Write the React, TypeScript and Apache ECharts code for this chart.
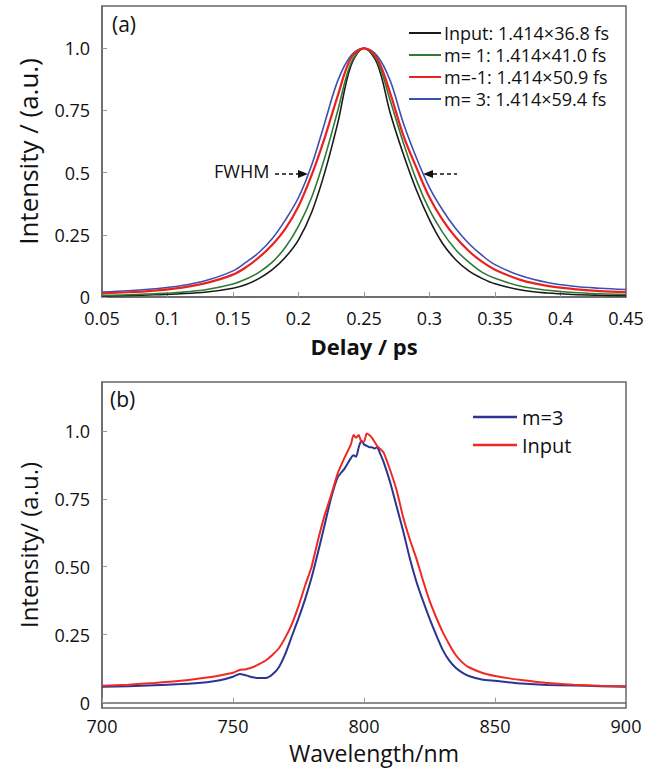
import React, { useEffect, useRef } from "react";
import * as echarts from "echarts";

// ---------- Panel (a): autocorrelation traces ----------
const delay = [0.05, 0.07, 0.09, 0.11, 0.13, 0.15, 0.16, 0.17, 0.18, 0.19, 0.2, 0.21, 0.22, 0.23, 0.24, 0.25, 0.26, 0.27, 0.28, 0.29, 0.3, 0.31, 0.32, 0.33, 0.34, 0.35, 0.37, 0.39, 0.41, 0.43, 0.45];
const inputTrace = [0.004, 0.006, 0.009, 0.013, 0.02, 0.035, 0.05, 0.075, 0.11, 0.16, 0.23, 0.34, 0.5, 0.7, 0.93, 1.0, 0.94, 0.74, 0.575, 0.43, 0.31, 0.215, 0.15, 0.105, 0.075, 0.053, 0.028, 0.016, 0.01, 0.007, 0.005];
const m1Trace = [0.007, 0.009, 0.013, 0.019, 0.03, 0.052, 0.072, 0.1, 0.14, 0.2, 0.285, 0.4, 0.56, 0.75, 0.94, 1.0, 0.95, 0.79, 0.62, 0.47, 0.35, 0.26, 0.19, 0.14, 0.1, 0.075, 0.043, 0.027, 0.018, 0.013, 0.01];
const mNeg1Trace = [0.015, 0.019, 0.026, 0.037, 0.057, 0.09, 0.12, 0.16, 0.21, 0.275, 0.365, 0.49, 0.64, 0.81, 0.96, 1.0, 0.96, 0.82, 0.65, 0.52, 0.4, 0.31, 0.24, 0.185, 0.142, 0.11, 0.068, 0.045, 0.032, 0.024, 0.02];
const m3Trace = [0.02, 0.025, 0.033, 0.045, 0.067, 0.105, 0.14, 0.18, 0.235, 0.31, 0.4, 0.53, 0.7, 0.87, 0.97, 1.0, 0.97, 0.87, 0.7, 0.56, 0.44, 0.35, 0.275, 0.215, 0.168, 0.13, 0.085, 0.058, 0.043, 0.035, 0.03];
const traceNames = ["Input: 1.414×36.8 fs", "m= 1: 1.414×41.0 fs", "m=-1: 1.414×50.9 fs", "m= 3: 1.414×59.4 fs"];
const delayTicks = [0.05, 0.1, 0.15, 0.2, 0.25, 0.3, 0.35, 0.4, 0.45];
const intensityTicksA = [0, 0.25, 0.5, 0.75, 1.0];

// ---------- Panel (b): spectra ----------
const wavelength = [700, 710, 720, 730, 740, 745, 750, 752.5, 755, 757.5, 760, 762.5, 765, 767.5, 770, 772.5, 775, 777.5, 780, 782.5, 785, 787.5, 790, 792.5, 795, 796, 797, 798, 799, 800, 801, 802, 803, 804, 805, 806, 807.5, 810, 812.5, 815, 817.5, 820, 822.5, 825, 827.5, 830, 832.5, 835, 837.5, 840, 845, 850, 855, 860, 870, 880, 890, 900];
const m3Spectrum = [0.058, 0.06, 0.064, 0.068, 0.075, 0.082, 0.095, 0.105, 0.1, 0.093, 0.09, 0.09, 0.103, 0.13, 0.18, 0.245, 0.31, 0.38, 0.46, 0.555, 0.655, 0.755, 0.83, 0.86, 0.9, 0.91, 0.905, 0.94, 0.965, 0.95, 0.945, 0.94, 0.94, 0.935, 0.94, 0.92, 0.885, 0.81, 0.72, 0.63, 0.53, 0.445, 0.375, 0.31, 0.25, 0.195, 0.155, 0.128, 0.11, 0.098, 0.085, 0.08, 0.075, 0.07, 0.065, 0.063, 0.06, 0.058];
const inputSpectrum = [0.062, 0.066, 0.072, 0.08, 0.092, 0.1, 0.11, 0.12, 0.123, 0.13, 0.142, 0.155, 0.175, 0.2, 0.24, 0.29, 0.355, 0.43, 0.5, 0.6, 0.69, 0.765, 0.845, 0.9, 0.95, 0.985, 0.975, 0.985, 0.96, 0.96, 0.99, 0.985, 0.975, 0.96, 0.945, 0.935, 0.92, 0.855, 0.78, 0.68, 0.6, 0.53, 0.45, 0.375, 0.315, 0.26, 0.215, 0.175, 0.148, 0.13, 0.11, 0.098, 0.09, 0.083, 0.072, 0.066, 0.062, 0.06];
const spectrumNames = ["m=3", "Input"];
const wavelengthTicks = [700, 750, 800, 850, 900];
const intensityTicksB = [0, 0.25, 0.5, 0.75, 1.0];

const FONT = "Open Sans";

const pairs = (xs: number[], ys: number[]) => xs.map((x, i) => [x, ys[i]]);

export default function App() {
  const ref = useRef<HTMLDivElement>(null);
  useEffect(() => {
    if (!ref.current) return;
    const chart = echarts.init(ref.current, undefined, { renderer: "svg" });
    const frame = "#666";
    const axisCommon = {
      axisLine: { show: true, lineStyle: { color: frame, width: 1.5 } },
      splitLine: { show: false },
    };
    const tick = (vals: number[]) => ({
      show: true,
      inside: true,
      length: 5,
      customValues: vals,
      lineStyle: { color: "#999", width: 1 },
    });
    const lbl = (vals: number[], fmt: (v: number) => string, margin: number) => ({
      customValues: vals,
      formatter: fmt,
      color: "#111",
      fontFamily: FONT,
      fontSize: 18,
      lineHeight: 18,
      margin,
    });

    const traceColors = ["#1a1a1a", "#2f7a34", "#e8231f", "#3d4fb0"];
    const traceWidths = [1.6, 1.6, 2.2, 1.6];
    const traces = [inputTrace, m1Trace, mNeg1Trace, m3Trace];
    const specColors = ["#2b3590", "#ee2a24"];
    const specs = [m3Spectrum, inputSpectrum];

    chart.setOption({
      animation: false,
      backgroundColor: "#fff",
      grid: [
        { left: 102, right: 37, top: 6, height: 291, show: true, borderColor: frame, borderWidth: 1.5, backgroundColor: "transparent" },
        { left: 102, right: 37, top: 382, height: 326, show: true, borderColor: frame, borderWidth: 1.5, backgroundColor: "transparent" },
      ],
      xAxis: [
        {
          type: "value", gridIndex: 0, min: 0.05, max: 0.45, ...axisCommon,
          axisTick: tick(delayTicks),
          axisLabel: lbl(delayTicks, (v: number) => String(parseFloat(v.toFixed(2))), 12),
          name: "Delay / ps", nameLocation: "middle", nameGap: 37,
          nameTextStyle: { color: "#111", fontFamily: FONT, fontSize: 22, lineHeight: 24, fontWeight: "bold" },
        },
        {
          type: "value", gridIndex: 1, min: 700, max: 900, ...axisCommon,
          axisTick: tick(wavelengthTicks),
          axisLabel: lbl(wavelengthTicks, (v: number) => String(Math.round(v)), 9),
          name: "Wavelength/nm", nameLocation: "middle", nameGap: 33,
          nameTextStyle: { color: "#111", fontFamily: FONT, fontSize: 23, lineHeight: 23, padding: [0, 0, 0, 20] },
        },
      ],
      yAxis: [
        {
          type: "value", gridIndex: 0, min: 0, max: 1.17, ...axisCommon,
          axisTick: tick(intensityTicksA),
          axisLabel: lbl(intensityTicksA, (v: number) => (v === 0 ? "0" : v === 1 ? "1.0" : String(v)), 12),
          name: "Intensity / (a.u.)", nameLocation: "middle", nameGap: 61,
          nameTextStyle: { color: "#111", fontFamily: FONT, fontSize: 26 },
        },
        {
          type: "value", gridIndex: 1, min: -0.02, max: 1.18, ...axisCommon,
          axisTick: tick(intensityTicksB),
          axisLabel: lbl(intensityTicksB, (v: number) => (v === 0 ? "0" : v.toFixed(2).replace("1.00", "1.0")), 12),
          name: "Intensity/ (a.u.)", nameLocation: "middle", nameGap: 62,
          nameTextStyle: { color: "#111", fontFamily: FONT, fontSize: 24 },
        },
      ],
      legend: [
        {
          data: traceNames, orient: "vertical", left: 409, top: 24, padding: 0,
          icon: "rect", itemWidth: 32, itemHeight: 2, itemGap: 4,
          textStyle: { color: "#111", fontFamily: FONT, fontSize: 18, lineHeight: 18, padding: [0, 0, 0, -2] },
        },
        {
          data: spectrumNames, orient: "vertical", left: 473, top: 407, padding: 0,
          icon: "rect", itemWidth: 44, itemHeight: 2.5, itemGap: 8,
          textStyle: { color: "#111", fontFamily: FONT, fontSize: 20, lineHeight: 20 },
        },
      ],
      series: [
        ...traces.map((t, i) => ({
          name: traceNames[i], type: "line", xAxisIndex: 0, yAxisIndex: 0,
          data: pairs(delay, t), smooth: 0.35, symbol: "none",
          lineStyle: { color: traceColors[i], width: traceWidths[i] },
          itemStyle: { color: traceColors[i] },
          z: i === 2 ? 3 : 2,
        })),
        ...specs.map((s, i) => ({
          name: spectrumNames[i], type: "line", xAxisIndex: 1, yAxisIndex: 1,
          data: pairs(wavelength, s), smooth: 0.2, symbol: "none",
          lineStyle: { color: specColors[i], width: 2 },
          itemStyle: { color: specColors[i] },
        })),
      ],
      graphic: [
        { type: "text", left: 112, top: 13, style: { text: "(a)", fontFamily: FONT, fontSize: 21, fill: "#111" } },
        { type: "text", left: 110, top: 388, style: { text: "(b)", fontFamily: FONT, fontSize: 21, fill: "#111" } },
        { type: "text", left: 214, top: 162, style: { text: "FWHM", fontFamily: FONT, fontSize: 18, fill: "#111" } },
        { type: "line", shape: { x1: 275, y1: 174, x2: 299, y2: 174 }, style: { stroke: "#111", lineWidth: 1.3, lineDash: [4, 3] } },
        { type: "polygon", shape: { points: [[298, 170], [308, 174], [298, 178]] }, style: { fill: "#111" } },
        { type: "polygon", shape: { points: [[423, 174], [433, 170], [433, 178]] }, style: { fill: "#111" } },
        { type: "line", shape: { x1: 433, y1: 174, x2: 457, y2: 174 }, style: { stroke: "#111", lineWidth: 1.3, lineDash: [4, 3] } },
      ],
    });
    return () => chart.dispose();
  }, []);
  return <div ref={ref} style={{ position: "fixed", left: 0, top: 0, width: 663, height: 776 }} />;
}
